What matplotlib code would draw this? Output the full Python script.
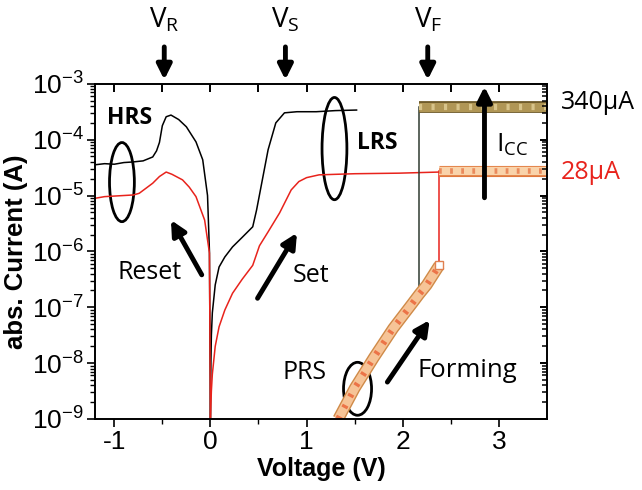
import numpy as np
import matplotlib.pyplot as plt
import matplotlib.patheffects as pe
from matplotlib.patches import Ellipse

plt.rcParams['font.family'] = ['Liberation Sans', 'DejaVu Sans']
plt.rcParams['mathtext.default'] = 'regular'

# --- data (current as log10 of A) ---
reset_black_v = [-1.2, -1.1, -1.0, -0.9, -0.81, -0.7, -0.6, -0.56, -0.53, -0.5, -0.46, -0.41,
                 -0.33, -0.25, -0.15, -0.08, -0.03, -0.01, 0.0]
reset_black_log = [-4.45, -4.43, -4.44, -4.41, -4.40, -4.38, -4.31, -4.2, -4.05, -3.75, -3.59, -3.56,
                   -3.64, -3.77, -4.04, -4.36, -5.0, -6.0, -9.0]

reset_red_v = [-1.2, -1.1, -1.0, -0.9, -0.8, -0.74, -0.6, -0.53, -0.46, -0.4, -0.29, -0.22,
               -0.15, -0.06, -0.01, 0.0]
reset_red_log = [-5.05, -5.02, -5.01, -5.0, -4.99, -4.96, -4.78, -4.66, -4.58, -4.62, -4.72, -4.85,
                 -5.02, -5.44, -6.03, -9.0]

set_black_v = [0.0, 0.005, 0.01, 0.02, 0.05, 0.09, 0.15, 0.23, 0.33, 0.44, 0.48, 0.54,
               0.6, 0.68, 0.77, 0.9, 1.1, 1.3, 1.52]
set_black_log = [-9.0, -8.0, -7.5, -7.1, -6.6, -6.28, -6.1, -5.92, -5.75, -5.56, -5.26, -4.72,
                 -4.18, -3.7, -3.52, -3.5, -3.5, -3.48, -3.47]

set_red_v = [0.0, 0.01, 0.02, 0.05, 0.09, 0.15, 0.23, 0.33, 0.44, 0.51, 0.6, 0.72,
             0.84, 0.92, 1.0, 1.13, 1.5, 1.96, 2.38]
set_red_log = [-9.0, -8.5, -8.2, -7.7, -7.35, -7.05, -6.75, -6.5, -6.25, -5.9, -5.65, -5.31,
               -4.9, -4.75, -4.68, -4.63, -4.61, -4.6, -4.58]

form_v = [1.33, 1.5, 1.7, 1.9, 2.1, 2.17, 2.25, 2.38]
form_log = [-9.0, -8.45, -7.9, -7.38, -6.93, -6.77, -6.6, -6.25]

form_black_jump_v = 2.17
form_red_jump_v = 2.38
cc_black = 3.8e-4   # 340 uA compliance
cc_red = 2.8e-5     # 28 uA compliance

x_ticks = [-1, 0, 1, 2, 3]
x_minor = [-1, -0.5, 0, 0.5, 1, 1.5, 2, 2.5, 3]
y_decades = [1e-9, 1e-8, 1e-7, 1e-6, 1e-5, 1e-4, 1e-3]
v_marks = {'R': -0.48, 'S': 0.78, 'F': 2.26}

fig = plt.figure(figsize=(6.42, 4.9), dpi=100)
ax = fig.add_axes([0.148, 0.145, 0.704, 0.684])
ax.set_yscale('log')
ax.set_xlim(-1.2, 3.5)
ax.set_ylim(1e-9, 1e-3)

def cur(vals):
    return np.power(10.0, np.array(vals))

red = '#e8231c'
ax.plot(reset_black_v, cur(reset_black_log), color='k', lw=1.1)
ax.plot(set_black_v, cur(set_black_log), color='k', lw=1.1)
ax.plot(reset_red_v, cur(reset_red_log), color=red, lw=1.1)
ax.plot(set_red_v, cur(set_red_log), color=red, lw=1.1)

# forming jumps
i_black_jump = 10 ** form_log[form_v.index(form_black_jump_v)]
ax.plot([form_black_jump_v, form_black_jump_v], [i_black_jump, cc_black], color='#2f3a30', lw=1.1)
ax.plot([form_red_jump_v, form_red_jump_v], [10 ** form_log[-1], cc_red], color=red, lw=1.1)

# forming band (dense markers look)
ax.plot(form_v, cur(form_log), color='#f6c497', lw=6.5, solid_capstyle='butt', solid_joinstyle='round',
        path_effects=[pe.Stroke(linewidth=8.5, foreground='#cf8a48'), pe.Normal()])
ax.plot(form_v, cur(form_log), color='#ec7448', lw=4.5, dashes=(0.5, 1.5), solid_capstyle='butt')
ax.plot(form_v[-1], 10 ** form_log[-1], 's', mfc='white', mec='#e08050', ms=6, mew=1)

# compliance bands
ax.plot([form_black_jump_v, 3.5], [cc_black, cc_black], color='#b09655', lw=6.5, solid_capstyle='butt',
        path_effects=[pe.Stroke(linewidth=8.5, foreground='#6e5b2a'), pe.Normal()])
ax.plot([form_black_jump_v, 3.5], [cc_black, cc_black], color='#d8c48a', lw=4.5, dashes=(0.5, 1.5))
ax.plot([form_red_jump_v, 3.5], [cc_red, cc_red], color='#f9d3aa', lw=6, solid_capstyle='butt',
        path_effects=[pe.Stroke(linewidth=8, foreground='#e0783c'), pe.Normal()])
ax.plot([form_red_jump_v, 3.5], [cc_red, cc_red], color='#ea8a5c', lw=4, dashes=(0.5, 1.5))

# axes styling: bottom/left ticks outward
ax.set_xticks(x_ticks)
ax.set_xticks(x_minor, minor=True)
ax.tick_params(axis='both', which='major', direction='out', length=6, width=1.2, labelsize=19, pad=2)
ax.tick_params(axis='both', which='minor', direction='out', length=3.5, width=1.0)
ax.xaxis.set_major_formatter(plt.FuncFormatter(lambda x, p: f'{x:g}'))
for s in ax.spines.values():
    s.set_linewidth(1.4)

# top/right ticks pointing inward (as short vlines/hlines in axes units)
xt = ax.get_xaxis_transform()
yt = ax.get_yaxis_transform()
ax.vlines(x_minor, 0.975, 1.0, transform=xt, colors='k', lw=1.4, clip_on=False, zorder=5)
ax.hlines(y_decades, 0.984, 1.0, transform=yt, colors='k', lw=1.4, clip_on=False, zorder=5)
y_minor = [m * d for d in y_decades[:-1] for m in range(2, 10)]
ax.hlines(y_minor, 0.99, 1.0, transform=yt, colors='k', lw=1.1, clip_on=False, zorder=5)

ax.set_xlabel('Voltage (V)', fontsize=18, fontweight='bold', labelpad=2)
ax.set_ylabel('abs. Current (A)', fontsize=18.5, fontweight='bold', labelpad=3)

# annotations
note = ['Open Sans', 'DejaVu Sans']
ax.text(-0.84, 10 ** -3.61, 'HRS', fontsize=16.5, fontweight='bold', family=note, ha='center', va='center')
ax.text(1.74, 10 ** -4.06, 'LRS', fontsize=16.5, fontweight='bold', family=note, ha='center', va='center')
ax.text(-0.63, 10 ** -6.37, 'Reset', fontsize=18, family=note, ha='center', va='center')
ax.text(1.05, 10 ** -6.44, 'Set', fontsize=18, family=note, ha='center', va='center')
ax.text(0.98, 10 ** -8.16, 'PRS', fontsize=18, family=note, ha='center', va='center')
ax.text(2.67, 10 ** -8.13, 'Forming', fontsize=18.5, family=note, ha='center', va='center')
ax.text(3.14, 10 ** -4.09, 'I$_{CC}$', fontsize=19, family=note, ha='center', va='center')
ax.text(3.64, 10 ** -3.34, '340µA', fontsize=18, family=note, ha='left', va='center', clip_on=False)
ax.text(3.64, 10 ** -4.58, '28µA', fontsize=18, family=note, color=red, ha='left', va='center', clip_on=False)

def ring(v, logi, w, h):
    cx, cy = ax.transAxes.inverted().transform(ax.transData.transform((v, 10 ** logi)))
    ax.add_patch(Ellipse((cx, cy), w, h, transform=ax.transAxes, fill=False, lw=2, ec='k'))

ring(-0.92, -4.76, 0.055, 0.236)
ring(1.29, -4.16, 0.055, 0.305)
ring(1.53, -8.46, 0.062, 0.158)

arrow = dict(arrowstyle='-|>', lw=3.5, color='k', mutation_scale=22, shrinkA=0, shrinkB=0)
ax.annotate('', xy=(-0.41, 10 ** -5.44), xytext=(-0.09, 10 ** -6.42), arrowprops=arrow)
ax.annotate('', xy=(0.90, 10 ** -5.67), xytext=(0.49, 10 ** -6.84), arrowprops=arrow)
ax.annotate('', xy=(2.28, 10 ** -7.23), xytext=(1.84, 10 ** -8.34), arrowprops=arrow)
ax.annotate('', xy=(2.85, 10 ** -3.05), xytext=(2.85, 10 ** -5.04), arrowprops=arrow)

for k, v in v_marks.items():
    ax.annotate('', xy=(v, 1.012), xytext=(v, 1.11), xycoords=xt, textcoords=xt,
                arrowprops=arrow, annotation_clip=False)
    ax.text(v, 1.19, f'V$_{k}$', transform=xt, fontsize=20, family=note, ha='center', va='center')

fig.savefig('out.png', dpi=100)
